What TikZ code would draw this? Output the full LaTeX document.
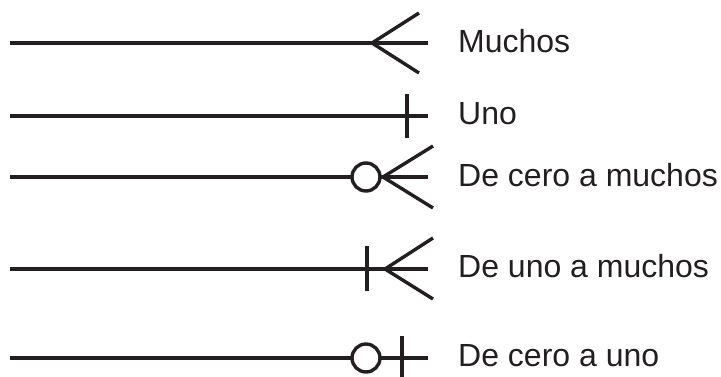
\documentclass[tikz,border=0pt]{standalone}
\usepackage{fontspec}
\setmainfont{Liberation Sans}
\definecolor{ink}{HTML}{231F20}
\begin{document}
\begin{tikzpicture}[x=1pt,y=-1pt,
  ln/.style={line width=3.4pt, draw=ink},
  ring/.style={circle, draw=ink, line width=3.4pt, fill=white, minimum size=28pt, inner sep=0pt},
  lbl/.style={anchor=base west, inner sep=0pt, text=ink, font=\fontsize{32}{38}\selectfont}]
\useasboundingbox (0,0) rectangle (721,376);
% Row 1: Muchos
\coordinate (a1) at (10,43); \coordinate (b1) at (428,43);
\coordinate (v1) at (372,43); \coordinate (u1) at (419,13); \coordinate (d1) at (419,73);
\draw[ln] (a1) -- (b1);
\draw[ln] (u1) -- (v1) -- (d1);
\node[lbl] (l1) at (458,52) {Muchos};
% Row 2: Uno
\coordinate (a2) at (10,116); \coordinate (b2) at (428,116);
\coordinate (p2) at (407,94); \coordinate (q2) at (407,138);
\draw[ln] (a2) -- (b2);
\draw[ln] (p2) -- (q2);
\node[lbl] (l2) at (458,124) {Uno};
% Row 3: De cero a muchos
\coordinate (a3) at (10,177); \coordinate (b3) at (428,177);
\coordinate (v3) at (383,177); \coordinate (u3) at (433,146); \coordinate (d3) at (433,208);
\draw[ln] (a3) -- (b3);
\node[ring] (c3) at (366,177) {};
\draw[ln] (u3) -- (v3) -- (d3);
\node[lbl] (l3) at (458,186) {De cero a muchos};
% Row 4: De uno a muchos
\coordinate (a4) at (10,269); \coordinate (b4) at (428,269);
\coordinate (p4) at (367,246); \coordinate (q4) at (367,291);
\coordinate (v4) at (385,269); \coordinate (u4) at (433,238); \coordinate (d4) at (433,299);
\draw[ln] (a4) -- (b4);
\draw[ln] (p4) -- (q4);
\draw[ln] (u4) -- (v4) -- (d4);
\node[lbl] (l4) at (458,277) {De uno a muchos};
% Row 5: De cero a uno
\coordinate (a5) at (10,358); \coordinate (b5) at (428,358);
\coordinate (p5) at (402,336); \coordinate (q5) at (402,380);
\draw[ln] (a5) -- (b5);
\node[ring] (c5) at (366,358) {};
\draw[ln] (p5) -- (q5);
\node[lbl] (l5) at (458,366) {De cero a uno};
\end{tikzpicture}
\end{document}
